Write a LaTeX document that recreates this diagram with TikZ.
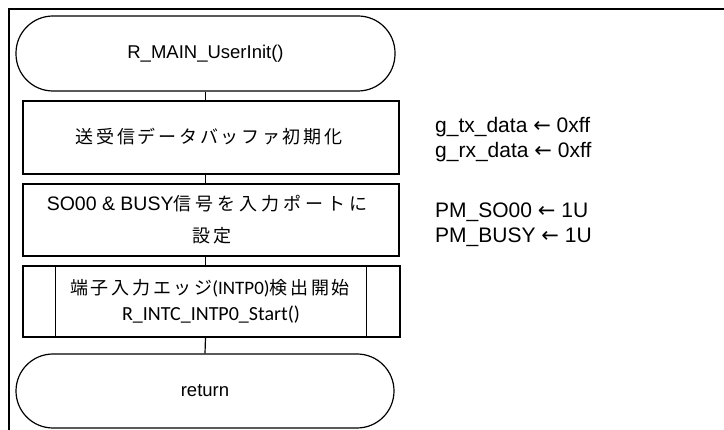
\documentclass[tikz,border=0pt]{standalone}
\usepackage{fontspec}
\setmainfont{Liberation Sans}
\newfontfamily\jpfont[LetterSpace=15]{Noto Sans CJK JP}
\newfontfamily\jpwide[LetterSpace=22]{Noto Sans CJK JP}
\newfontfamily\condfont{Carlito}
\newfontfamily\arrowfont{DejaVu Sans}
\newcommand{\larr}{{\arrowfont ←}}
\begin{document}
\begin{tikzpicture}[x=1pt,y=1pt,
  term/.style={draw, line width=1.2pt, rounded corners=37pt, inner sep=0pt, font=\fontsize{18.5}{22}\selectfont},
  proc/.style={draw, line width=1.2pt, inner sep=0pt, align=center},
  conn/.style={line width=1.2pt},
  jp/.style={inner sep=0pt, font=\jpfont\fontsize{18}{22}\selectfont},
  note/.style={anchor=west, align=left, inner sep=0pt, font=\fontsize{21}{25}\selectfont}]
\useasboundingbox (0,0) rectangle (724,-430);
\clip (0,0) rectangle (724,-430);
\draw[line width=2.4pt] (9,-440) -- (9,-9) -- (740,-9);
\node[term, minimum width=379, minimum height=75] (t1) at (205.5,-53.5) {R\_MAIN\_UserInit()};
\node[proc, minimum width=376, minimum height=73] (b1) at (211,-137.5) {};
\node[jp] (b1t) at (209,-137) {送受信データバッファ初期化};
\node[proc, minimum width=376, minimum height=72] (b2) at (211,-220) {};
\node[jp] (b2a) at (207,-204) {{\normalfont\fontsize{19.5}{22}\selectfont SO00 \& BUSY}{\jpwide 信号を入力ポートに}};
\node[jp] (b2b) at (212,-236) {設定};
\node[proc, minimum width=377, minimum height=71] (b3) at (211.5,-301.5) {};
\draw[conn] ([xshift=33]b3.north west) -- ([xshift=33]b3.south west);
\draw[conn] ([xshift=-34]b3.north east) -- ([xshift=-34]b3.south east);
\node[jp] (b3a) at (210,-288) {端子入力エッジ{\condfont\fontsize{19}{22}\selectfont (INTP0)}検出開始};
\node[inner sep=0pt, font=\condfont\fontsize{20}{22}\selectfont] (b3b) at (211,-315) {R\_INTC\_INTP0\_Start()};
\node[term, minimum width=378, minimum height=74] (t2) at (205,-391) {return};
\draw[conn] (t1.south) -- (t1.south |- b1.north);
\draw[conn] (t1.south |- b1.south) -- (t1.south |- b2.north);
\draw[conn] (t1.south |- b2.south) -- (t1.south |- b3.north);
\draw[conn] (t1.south |- b3.south) -- (t2.north);
\node[note] (n1) at (435,-139.5) {g\_tx\_data \larr{} 0xff\\g\_rx\_data \larr{} 0xff};
\node[note] (n2) at (435,-224.5) {PM\_SO00 \larr{} 1U\\PM\_BUSY \larr{} 1U};
\end{tikzpicture}
\end{document}
